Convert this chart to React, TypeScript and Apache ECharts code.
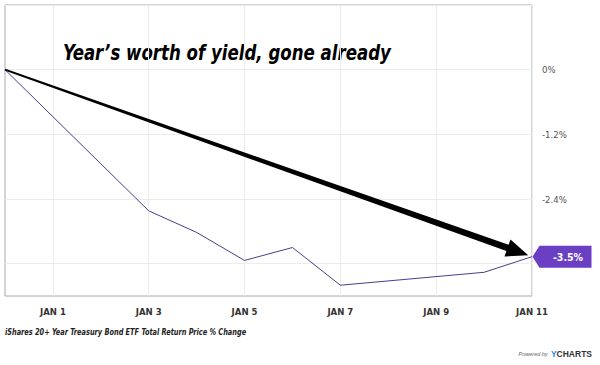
import React, { useEffect, useRef } from "react";
import * as echarts from "echarts";

const dates = ["2021-12-31", "2022-01-03", "2022-01-04", "2022-01-05", "2022-01-06", "2022-01-07", "2022-01-10", "2022-01-11"];
const values = [0, -2.62, -3.02, -3.54, -3.3, -4.0, -3.76, -3.47];
const yLabelTicks = [0, -1.2, -2.4];
const titleText = "Year\u2019s worth of yield, gone already";
const footerText = "iShares 20+ Year Treasury Bond ETF Total Return Price % Change";

const baseDay = Date.parse(dates[0]);
const dayOf = (d: string) => Math.round((Date.parse(d) - baseDay) / 86400000);
const points = dates.map((d, i) => [dayOf(d), values[i]]);
const lastPoint = points[points.length - 1];

export default function App() {
  const ref = useRef<HTMLDivElement>(null);
  useEffect(() => {
    if (!ref.current) return;
    const chart = echarts.init(ref.current, null, { renderer: "svg" });
    const narrow = "'Liberation Sans Narrow', 'DejaVu Sans Condensed', sans-serif";
    chart.setOption({
      animation: false,
      backgroundColor: "#fff",
      grid: { left: 5, right: 68, top: 5, bottom: 69, show: true, borderColor: "#a8a8a8", borderWidth: 1 },
      xAxis: {
        type: "value",
        min: 0,
        max: 11,
        interval: 1,
        axisLine: { show: false },
        axisTick: { show: false },
        splitLine: { show: true, lineStyle: { color: ["transparent", "#ececec"], width: 1 } },
        axisLabel: {
          margin: 10,
          fontFamily: narrow,
          fontWeight: "bold",
          fontSize: 9.5,
          color: "#333",
          formatter: (v: number) => (Math.round(v) % 2 === 1 ? "JAN " + Math.round(v) : ""),
        },
      },
      yAxis: {
        type: "value",
        position: "right",
        min: -4.2,
        max: 1.2,
        interval: 0.6,
        axisLine: { show: false },
        axisTick: { show: false },
        splitLine: { show: true, lineStyle: { color: ["transparent", "#ececec"], width: 1 } },
        axisLabel: {
          margin: 10,
          fontFamily: narrow,
          fontSize: 9.5,
          color: "#555",
          formatter: (v: number) => {
            const r = Math.round(v * 10) / 10;
            return yLabelTicks.some((t) => Math.abs(t - r) < 1e-6) ? r + "%" : "";
          },
        },
      },
      series: [
        {
          type: "line",
          data: points,
          symbol: "none",
          lineStyle: { color: "#4a3d8c", width: 1 },
          z: 3,
          markPoint: {
            data: [{ coord: lastPoint }],
            symbol: "path://M0,11 L7,0 L59,0 L59,22 L7,22 Z",
            symbolSize: [59, 22],
            symbolOffset: [30, 0],
            itemStyle: { color: "#6a3fc4" },
            label: {
              show: true,
              position: "inside",
              offset: [6, 0],
              color: "#fff",
              fontFamily: narrow,
              fontWeight: "bold",
              fontSize: 10.5,
              formatter: () => lastPoint[1].toFixed(1) + "%",
            },
          },
        },
        {
          type: "custom",
          data: [[points[0][0], points[0][1], lastPoint[0], lastPoint[1]]],
          z: 4,
          renderItem: (params: any, api: any) => {
            const s = api.coord([api.value(0), api.value(1)]);
            const e0 = api.coord([api.value(2), api.value(3)]);
            const dx = e0[0] - s[0];
            const dy = e0[1] - s[1];
            const len = Math.sqrt(dx * dx + dy * dy);
            const ux = dx / len, uy = dy / len;
            const nx = -uy, ny = ux;
            const e = [e0[0] - ux * 4, e0[1] - uy * 4];
            const L = 22, W = 9, w0 = 1, w1 = 3.3;
            const b = [e[0] - ux * L, e[1] - uy * L];
            const pts = [
              [s[0] + nx * w0, s[1] + ny * w0],
              [b[0] + nx * w1, b[1] + ny * w1],
              [b[0] + nx * W, b[1] + ny * W],
              e,
              [b[0] - nx * W, b[1] - ny * W],
              [b[0] - nx * w1, b[1] - ny * w1],
              [s[0] - nx * w0, s[1] - ny * w0],
            ];
            return { type: "polygon", shape: { points: pts }, style: { fill: "#000" } };
          },
        },
      ],
      graphic: [
        {
          type: "text",
          x: 63,
          y: 41,
          scaleX: 0.84,
          style: { text: titleText, font: `italic bold 22px ${narrow}`, fill: "#000", verticalAlign: "top" },
        },
        {
          type: "text",
          x: 5,
          y: 327,
          scaleX: 0.77,
          style: { text: footerText, font: `italic bold 9.5px ${narrow}`, fill: "#222", verticalAlign: "top" },
        },
        {
          type: "text",
          right: 8,
          top: 348,
          style: {
            text: "{p|Powered by} {y|Y}{c|CHARTS}",
            rich: {
              p: { fontSize: 5.5, fontStyle: "italic", fill: "#666", fontFamily: "Liberation Sans" },
              y: { fontSize: 8.5, fontWeight: "bold", fill: "#2a8ad8", fontFamily: "Liberation Sans" },
              c: { fontSize: 8.5, fontWeight: "bold", fill: "#333", fontFamily: "Liberation Sans" },
            },
          },
        },
      ],
    });
    return () => chart.dispose();
  }, []);
  return <div ref={ref} style={{ position: "absolute", left: 0, top: 0, width: 600, height: 365 }} />;
}
